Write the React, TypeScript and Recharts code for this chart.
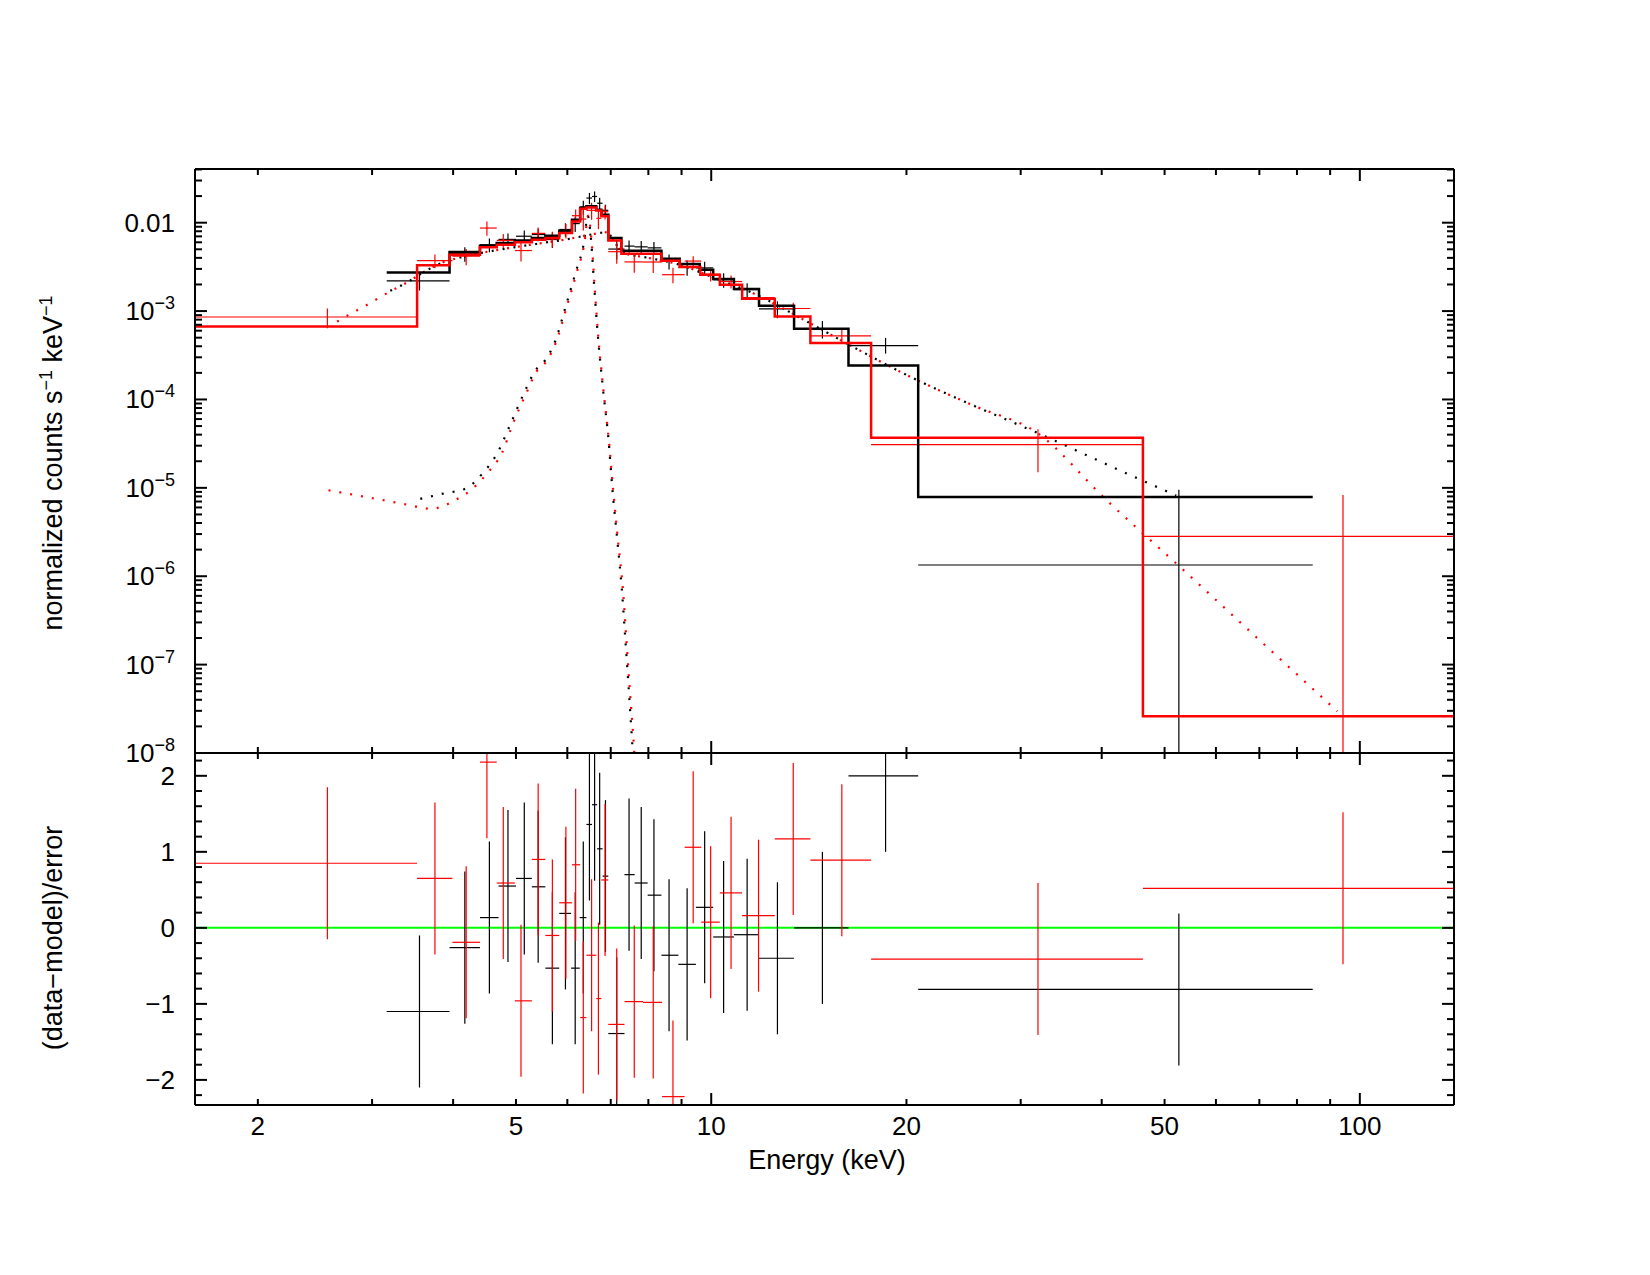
import React from "react";
import {
  ComposedChart,
  Line,
  Scatter,
  ErrorBar,
  XAxis,
  YAxis,
  ReferenceLine,
} from "recharts";

const FONT = "'Liberation Sans', Arial, Helvetica, sans-serif";

// axis ranges
const energyDomain: [number, number] = [1.6, 139.7];
const countsDomain: [number, number] = [1e-8, 0.0405];
const residDomain: [number, number] = [-2.33, 2.3];

// tick labels
const energyTickLabels = [2, 5, 10, 20, 50, 100];
const energyMajorTicks = [10, 100];
const countsTickLabels = [1e-2, 1e-3, 1e-4, 1e-5, 1e-6, 1e-7, 1e-8];
const residTickLabels = [-2, -1, 0, 1, 2];

// model histograms (bin lower edges, last entry = upper edge of final bin)
const blackModelEdges = [3.16, 3.95, 4.4, 4.67, 4.98, 5.29, 5.55, 5.83, 6.1, 6.28, 6.42, 6.65, 6.77, 6.94, 7.27, 8.38, 8.94, 9.6, 10.07, 10.84, 11.85, 13.42, 16.28, 20.85, 84.6];
const blackModelValues = [2.74e-3, 4.67e-3, 5.5e-3, 5.89e-3, 6.3e-3, 6.7e-3, 7.13e-3, 8.1e-3, 1.08e-2, 1.47e-2, 1.53e-2, 1.4e-2, 1.23e-2, 6.7e-3, 4.82e-3, 3.92e-3, 3.41e-3, 2.94e-3, 2.31e-3, 1.78e-3, 1.15e-3, 6.32e-4, 2.43e-4, 7.9e-6];
const redModelEdges = [1.55, 3.52, 3.95, 4.4, 4.67, 4.98, 5.29, 5.55, 5.83, 6.1, 6.28, 6.42, 6.65, 6.77, 6.94, 7.27, 8.38, 8.94, 9.62, 10.31, 11.16, 12.53, 14.22, 17.64, 46.3, 145];
const redModelValues = [6.7e-4, 3.29e-3, 4.35e-3, 5.26e-3, 5.64e-3, 5.99e-3, 6.42e-3, 6.7e-3, 7.64e-3, 1.03e-2, 1.44e-2, 1.49e-2, 1.37e-2, 1.18e-2, 6.3e-3, 4.46e-3, 3.71e-3, 3.15e-3, 2.58e-3, 1.99e-3, 1.38e-3, 8.7e-4, 4.35e-4, 3.7e-5, 2.6e-8];

// black data set
const blackE = [3.55, 4.17, 4.55, 4.86, 5.15, 5.41, 5.69, 5.96, 6.17, 6.35, 6.49, 6.61, 6.73, 6.87, 7.15, 7.47, 7.8, 8.16, 8.61, 9.18, 9.77, 10.45, 11.36, 12.65, 14.84, 18.57, 52.6];
const blackLo = [3.16, 3.95, 4.4, 4.7, 5.0, 5.29, 5.55, 5.83, 6.08, 6.27, 6.42, 6.55, 6.67, 6.8, 6.94, 7.35, 7.62, 7.98, 8.38, 8.9, 9.47, 10.07, 10.84, 11.85, 13.42, 16.28, 20.85];
const blackHi = [3.95, 4.4, 4.7, 5.0, 5.29, 5.55, 5.83, 6.08, 6.27, 6.42, 6.55, 6.67, 6.8, 6.94, 7.35, 7.62, 7.98, 8.38, 8.9, 9.47, 10.07, 10.84, 11.85, 13.42, 16.28, 20.85, 84.6];
const blackRate = [2.2e-3, 4.45e-3, 5.63e-3, 6.47e-3, 7.03e-3, 7.35e-3, 6.45e-3, 8.38e-3, 9.77e-3, 1.51e-2, 1.9e-2, 1.98e-2, 1.66e-2, 1.38e-2, 5.03e-3, 5.43e-3, 5.33e-3, 5.19e-3, 3.66e-3, 3.12e-3, 3.08e-3, 2.26e-3, 1.75e-3, 1.06e-3, 6.32e-4, 4.06e-4, 1.34e-6];
const blackRateLo = [1.71e-3, 3.61e-3, 4.64e-3, 5.41e-3, 5.9e-3, 6.15e-3, 5.17e-3, 6.92e-3, 7.83e-3, 1.24e-2, 1.62e-2, 1.71e-2, 1.41e-2, 1.16e-2, 3.83e-3, 4.56e-3, 4.46e-3, 4.32e-3, 2.95e-3, 2.51e-3, 2.55e-3, 1.84e-3, 1.43e-3, 8.3e-4, 4.9e-4, 3.3e-4, 1e-9];
const blackRateHi = [2.69e-3, 5.29e-3, 6.62e-3, 7.53e-3, 8.16e-3, 8.55e-3, 7.73e-3, 9.84e-3, 1.17e-2, 1.77e-2, 2.17e-2, 2.26e-2, 1.91e-2, 1.6e-2, 6.23e-3, 6.3e-3, 6.2e-3, 6.06e-3, 4.37e-3, 3.73e-3, 3.61e-3, 2.68e-3, 2.07e-3, 1.29e-3, 7.7e-4, 4.97e-4, 9.5e-6];
const blackResid = [-1.1, -0.26, 0.135, 0.55, 0.65, 0.54, -0.53, 0.19, -0.53, 0.135, 1.36, 1.62, 1.04, 0.68, -1.39, 0.7, 0.59, 0.43, -0.36, -0.48, 0.27, -0.12, -0.09, -0.4, 0.0, 2.0, -0.81];

// red data set
const redE = [2.56, 3.75, 4.19, 4.51, 4.78, 5.09, 5.41, 5.69, 5.97, 6.18, 6.35, 6.54, 6.7, 6.86, 7.15, 7.61, 8.14, 8.73, 9.38, 9.98, 10.73, 11.83, 13.38, 15.9, 31.9, 94.2];
const redLo = [1.55, 3.52, 3.99, 4.4, 4.67, 4.98, 5.29, 5.55, 5.83, 6.1, 6.28, 6.42, 6.65, 6.77, 6.94, 7.35, 7.85, 8.4, 9.1, 9.65, 10.31, 11.16, 12.53, 14.22, 17.64, 46.3];
const redHi = [3.52, 3.99, 4.4, 4.67, 4.98, 5.29, 5.55, 5.83, 6.1, 6.28, 6.42, 6.65, 6.77, 6.94, 7.35, 7.85, 8.4, 9.1, 9.65, 10.31, 11.16, 12.53, 14.22, 17.64, 46.3, 145];
const redRate = [8.57e-4, 3.72e-3, 4.18e-3, 8.7e-3, 6.31e-3, 4.84e-3, 7.57e-3, 6.57e-3, 8.14e-3, 1.2e-2, 1.1e-2, 1.38e-2, 1.12e-2, 1.33e-2, 4.7e-3, 3.6e-3, 3.59e-3, 2.58e-3, 3.68e-3, 2.61e-3, 2.16e-3, 1.42e-3, 1.07e-3, 5.24e-4, 3.08e-5, 2.83e-6];
const redRateLo = [6.4e-4, 3.06e-3, 3.31e-3, 7.12e-3, 5.18e-3, 3.64e-3, 6.29e-3, 5.23e-3, 6.61e-3, 9.95e-3, 8.14e-3, 1.08e-2, 8.45e-3, 1.09e-2, 3.44e-3, 2.71e-3, 2.7e-3, 2.07e-3, 3.18e-3, 2.16e-3, 1.8e-3, 1.16e-3, 9.0e-4, 4.24e-4, 1.5e-5, 1e-9];
const redRateHi = [1.07e-3, 4.38e-3, 5.05e-3, 1.03e-2, 7.44e-3, 6.04e-3, 8.85e-3, 7.91e-3, 9.67e-3, 1.41e-2, 1.39e-2, 1.68e-2, 1.39e-2, 1.56e-2, 5.96e-3, 4.49e-3, 4.48e-3, 3.09e-3, 4.18e-3, 3.06e-3, 2.52e-3, 1.68e-3, 1.24e-3, 6.24e-4, 4.6e-5, 8.3e-6];
const redResid = [0.85, 0.65, -0.19, 2.18, 0.59, -0.96, 0.9, -0.1, 0.33, 0.83, -1.18, -0.36, -0.93, 0.63, -1.27, -0.97, -0.98, -2.22, 1.06, 0.075, 0.46, 0.16, 1.17, 0.89, -0.41, 0.52];

// model components (dotted)
const contRedE = [2.65, 2.75, 2.96, 3.18, 3.42, 3.6, 3.84, 4.2, 4.6, 5.0, 5.5, 6.0, 6.5, 6.9, 7.1, 7.3, 8.0, 9.0, 10.0, 11.74, 14.03, 16.85, 20.2, 25.4, 31.8, 40.5, 53.3, 70.1, 92.3];
const contRedV = [7.6e-4, 8.9e-4, 1.2e-3, 1.63e-3, 2.17e-3, 2.75e-3, 3.5e-3, 4.2e-3, 4.8e-3, 5.3e-3, 5.9e-3, 6.5e-3, 7.3e-3, 7.8e-3, 6.0e-3, 4.6e-3, 4.0e-3, 3.3e-3, 2.45e-3, 1.53e-3, 7.65e-4, 3.66e-4, 1.83e-4, 8.5e-5, 4.2e-5, 7.5e-6, 1.2e-6, 1.88e-7, 2.97e-8];
const contBlackE = [3.2, 3.42, 3.6, 3.84, 4.2, 4.6, 5.0, 5.5, 6.0, 6.5, 6.9, 7.1, 7.3, 8.0, 9.0, 10.0, 11.74, 14.03, 16.85, 20.2, 25.4, 31.8, 42.96, 52.1];
const contBlackV = [1.7e-3, 2.17e-3, 2.75e-3, 3.5e-3, 4.2e-3, 4.8e-3, 5.3e-3, 5.9e-3, 6.5e-3, 7.3e-3, 7.8e-3, 6.0e-3, 4.6e-3, 4.0e-3, 3.3e-3, 2.45e-3, 1.53e-3, 7.65e-4, 3.66e-4, 1.83e-4, 8.5e-5, 4.2e-5, 1.54e-5, 8.2e-6];
const lineRedE = [2.57, 2.9, 3.14, 3.4, 3.69, 3.84, 3.99, 4.27, 4.51, 4.76, 4.95, 5.19, 5.38, 5.57, 5.77, 5.98, 6.2, 6.38, 6.46, 6.54, 6.61, 6.69, 6.81, 6.96, 7.06, 7.18, 7.31, 7.4, 7.49, 7.6, 7.65];
const lineRedV = [9.4e-6, 8.0e-6, 7.2e-6, 6.45e-6, 5.8e-6, 6.1e-6, 7.0e-6, 9.55e-6, 1.45e-5, 2.5e-5, 5.4e-5, 1.19e-4, 2.08e-4, 2.7e-4, 4.54e-4, 1.08e-3, 2.7e-3, 6.1e-3, 1.2e-2, 6.1e-3, 1.9e-3, 5.65e-4, 1.41e-4, 3.2e-5, 9.5e-6, 2.6e-6, 7.0e-7, 1.9e-7, 5.2e-8, 1.19e-8, 5e-9];
const lineBlackE = [3.56, 3.86, 4.18, 4.45, 4.67, 4.9, 5.15, 5.35, 5.55, 5.75, 5.96, 6.18, 6.37, 6.45, 6.53, 6.6, 6.68, 6.8, 6.95, 7.04, 7.16, 7.28, 7.37, 7.46, 7.56, 7.62];
const lineBlackV = [7.5e-6, 8.6e-6, 9.8e-6, 1.48e-5, 2.4e-5, 5.2e-5, 1.2e-4, 2.1e-4, 2.8e-4, 4.6e-4, 1.1e-3, 2.75e-3, 6.2e-3, 1.2e-2, 6.2e-3, 1.95e-3, 5.8e-4, 1.45e-4, 3.3e-5, 9.8e-6, 2.7e-6, 7.2e-7, 2e-7, 5.4e-8, 1.2e-8, 5e-9];

// helpers
const within = (d: [number, number]) => (v: number) => v >= d[0] && v <= d[1];
const clampTo = (d: [number, number]) => (v: number) => Math.min(Math.max(v, d[0]), d[1]);
const clampE = clampTo(energyDomain);
const clampC = clampTo(countsDomain);
const clampR = clampTo(residDomain);
const logMinor = (decades: number[], d: [number, number]) =>
  decades.flatMap((p) => [2, 3, 4, 5, 6, 7, 8, 9].map((m) => m * p)).filter(within(d));
const energyMinorTicks = logMinor([1, 10, 100], energyDomain);
const countsMinorTicks = logMinor([1e-8, 1e-7, 1e-6, 1e-5, 1e-4, 1e-3, 1e-2], countsDomain);
const countsMajorTicks = countsTickLabels.filter(within(countsDomain));
const residMinorTicks = Array.from({ length: 25 }, (_, i) => Math.round((i - 12) * 2) / 10)
  .filter((v) => !Number.isInteger(v))
  .filter(within(residDomain));

const steps = (edges: number[], values: number[]) =>
  edges.map((x, i) => ({ x, y: values[Math.min(i, values.length - 1)] }));
const curve = (xs: number[], ys: number[]) => xs.map((x, i) => ({ x, y: ys[i] }));
// error bar ends are clamped to the plot box (ErrorBar is not clipped by the chart)
const crosses = (e: number[], lo: number[], hi: number[], y: number[], yLo: number[], yHi: number[]) =>
  e.map((x, i) => ({
    x,
    y: y[i],
    xErr: [x - clampE(lo[i]), clampE(hi[i]) - x],
    yErr: [y[i] - clampC(yLo[i]), clampC(yHi[i]) - y[i]],
  }));
const residRows = (e: number[], lo: number[], hi: number[], r: number[]) =>
  e.map((x, i) => ({
    x,
    y: r[i],
    xErr: [x - clampE(lo[i]), clampE(hi[i]) - x],
    yErr: [r[i] - clampR(r[i] - 1), clampR(r[i] + 1) - r[i]],
  }));

const blackCross = crosses(blackE, blackLo, blackHi, blackRate, blackRateLo, blackRateHi);
const redCross = crosses(redE, redLo, redHi, redRate, redRateLo, redRateHi);
const blackRes = residRows(blackE, blackLo, blackHi, blackResid);
const redRes = residRows(redE, redLo, redHi, redResid);

const RED = "#ff0000";
const THIN = 0.001; // axes need a non-zero size to be drawn
const frame = { stroke: "#000", strokeWidth: 2 };
const tickStroke = { stroke: "#000", strokeWidth: 2 };
const labelStyle = { fontSize: 26, fill: "#000", fontFamily: FONT };
const noShape = () => <g />;
const noLabel = () => <g />; // keeps the tick lines, draws no text

// x tick marks: non-mirrored axes with a negative tick size so the marks point into the plot
function xTickAxes(prefix: string, orientation: "top" | "bottom") {
  return [
    <XAxis key={prefix + "n"} xAxisId={prefix + "n"} dataKey="x" orientation={orientation} type="number" scale="log"
      domain={energyDomain} allowDataOverflow ticks={energyMinorTicks} interval={0} tick={noLabel}
      tickSize={-6} tickMargin={0} tickLine={tickStroke} axisLine={false} height={THIN} />,
    <XAxis key={prefix + "j"} xAxisId={prefix + "j"} dataKey="x" orientation={orientation} type="number" scale="log"
      domain={energyDomain} allowDataOverflow ticks={energyMajorTicks} interval={0} tick={noLabel}
      tickSize={-12} tickMargin={0} tickLine={tickStroke} axisLine={frame} height={THIN} />,
  ];
}

function yTickAxes(prefix: string, orientation: "left" | "right", log: boolean) {
  const domain = log ? countsDomain : residDomain;
  const scale = log ? "log" : "linear";
  return [
    <YAxis key={prefix + "n"} yAxisId={prefix + "n"} dataKey="y" orientation={orientation} mirror type="number" scale={scale}
      domain={domain} allowDataOverflow ticks={log ? countsMinorTicks : residMinorTicks} interval={0} tick={noLabel}
      tickSize={7} tickLine={tickStroke} axisLine={false} width={THIN} />,
    <YAxis key={prefix + "j"} yAxisId={prefix + "j"} dataKey="y" orientation={orientation} mirror type="number" scale={scale}
      domain={domain} allowDataOverflow ticks={log ? countsMajorTicks : residTickLabels} interval={0} tick={noLabel}
      tickSize={12} tickLine={tickStroke} axisLine={frame} width={THIN} />,
  ];
}

function CountsTick(props: any) {
  const { x, y, payload } = props;
  const exp = Math.round(Math.log10(payload.value));
  return (
    <text x={x} y={y} dy={9} textAnchor="end" fontSize={26} fontFamily={FONT} fill="#000">
      {exp === -2 ? "0.01" : (
        <>
          10
          <tspan dy={-11} fontSize={18}>{`\u2212${-exp}`}</tspan>
        </>
      )}
    </text>
  );
}

const dotted = (data: { x: number; y: number }[], color: string, key: string) => (
  <Line key={key} data={data} dataKey="y" xAxisId="e" yAxisId="c" type="monotone" stroke={color}
    strokeWidth={2.2} strokeDasharray="2 9" dot={false} activeDot={false} isAnimationActive={false} />
);

function UpperPanel() {
  return (
    <ComposedChart width={1650} height={1275} margin={{ top: 169, right: 196, bottom: 522, left: 195 }}>
      <XAxis xAxisId="e" dataKey="x" type="number" scale="log" domain={energyDomain} allowDataOverflow hide height={THIN} />
      <YAxis yAxisId="c" dataKey="y" type="number" scale="log" domain={countsDomain} allowDataOverflow
        ticks={countsTickLabels} interval={0} tick={<CountsTick />} tickLine={false} axisLine={false}
        tickSize={0} tickMargin={20} width={THIN} />
      {xTickAxes("ub", "bottom")}
      {xTickAxes("ut", "top")}
      {yTickAxes("ul", "left", true)}
      {yTickAxes("ur", "right", true)}
      {dotted(curve(contBlackE, contBlackV), "#000", "cb")}
      {dotted(curve(lineBlackE, lineBlackV), "#000", "lb")}
      {dotted(curve(contRedE, contRedV), RED, "cr")}
      {dotted(curve(lineRedE, lineRedV), RED, "lr")}
      <Scatter data={blackCross} dataKey="y" xAxisId="e" yAxisId="c" shape={noShape} isAnimationActive={false}>
        <ErrorBar dataKey="xErr" direction="x" width={0} stroke="#000" strokeWidth={1.2} />
        <ErrorBar dataKey="yErr" direction="y" width={0} stroke="#000" strokeWidth={1.2} />
      </Scatter>
      <Scatter data={redCross} dataKey="y" xAxisId="e" yAxisId="c" shape={noShape} isAnimationActive={false}>
        <ErrorBar dataKey="xErr" direction="x" width={0} stroke={RED} strokeWidth={1.2} />
        <ErrorBar dataKey="yErr" direction="y" width={0} stroke={RED} strokeWidth={1.2} />
      </Scatter>
      <Line data={steps(blackModelEdges, blackModelValues)} dataKey="y" xAxisId="e" yAxisId="c" type="stepAfter"
        stroke="#000" strokeWidth={2.5} dot={false} activeDot={false} isAnimationActive={false} />
      <Line data={steps(redModelEdges, redModelValues)} dataKey="y" xAxisId="e" yAxisId="c" type="stepAfter"
        stroke={RED} strokeWidth={2.5} dot={false} activeDot={false} isAnimationActive={false} />
    </ComposedChart>
  );
}

function LowerPanel() {
  return (
    <ComposedChart width={1650} height={1275} margin={{ top: 753, right: 196, bottom: 170, left: 195 }}>
      <XAxis xAxisId="e" dataKey="x" type="number" scale="log" domain={energyDomain} allowDataOverflow
        ticks={energyTickLabels} interval={0} tick={labelStyle} tickLine={false} axisLine={false}
        tickSize={0} tickMargin={12} height={THIN} />
      <YAxis yAxisId="r" dataKey="y" type="number" domain={residDomain} allowDataOverflow
        ticks={residTickLabels} interval={0} tick={labelStyle} tickLine={false} axisLine={false}
        tickFormatter={(v: number) => String(v).replace("-", "\u2212")}
        tickSize={0} tickMargin={20} width={THIN} />
      {xTickAxes("lb", "bottom")}
      {xTickAxes("lt", "top")}
      {yTickAxes("ll", "left", false)}
      {yTickAxes("lr", "right", false)}
      <ReferenceLine y={0} xAxisId="e" yAxisId="r" stroke="#00ff00" strokeWidth={2} />
      <Scatter data={blackRes} dataKey="y" xAxisId="e" yAxisId="r" shape={noShape} isAnimationActive={false}>
        <ErrorBar dataKey="xErr" direction="x" width={0} stroke="#000" strokeWidth={1.2} />
        <ErrorBar dataKey="yErr" direction="y" width={0} stroke="#000" strokeWidth={1.2} />
      </Scatter>
      <Scatter data={redRes} dataKey="y" xAxisId="e" yAxisId="r" shape={noShape} isAnimationActive={false}>
        <ErrorBar dataKey="xErr" direction="x" width={0} stroke={RED} strokeWidth={1.2} />
        <ErrorBar dataKey="yErr" direction="y" width={0} stroke={RED} strokeWidth={1.2} />
      </Scatter>
    </ComposedChart>
  );
}

export default function App() {
  return (
    <div style={{ position: "absolute", left: 0, top: 0, width: 1650, height: 1275, background: "#fff" }}>
      <div style={{ position: "absolute", left: 0, top: 0 }}>
        <UpperPanel />
      </div>
      <div style={{ position: "absolute", left: 0, top: 0 }}>
        <LowerPanel />
      </div>
      <svg width={1650} height={1275} style={{ position: "absolute", left: 0, top: 0, pointerEvents: "none" }}
        fontFamily={FONT} fill="#000">
        <text x={827} y={1169} textAnchor="middle" fontSize={27}>Energy (keV)</text>
        <text transform="translate(62,463) rotate(-90)" textAnchor="middle" fontSize={27}>
          normalized counts s<tspan dy={-10} fontSize={18}>{"\u22121"}</tspan>
          <tspan dy={10}> keV</tspan>
          <tspan dy={-10} fontSize={18}>{"\u22121"}</tspan>
        </text>
        <text transform="translate(62,938) rotate(-90)" textAnchor="middle" fontSize={27}>
          (data{"\u2212"}model)/error
        </text>
      </svg>
    </div>
  );
}
